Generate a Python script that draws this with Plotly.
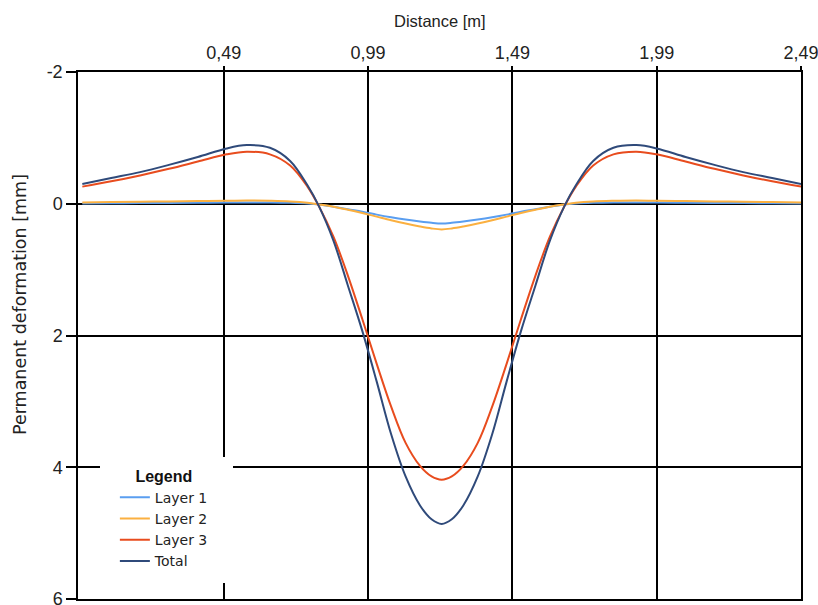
import plotly.graph_objects as go

# Distance along profile [m]
distance = [0.00, 0.10, 0.20, 0.30, 0.40, 0.50, 0.57, 0.65, 0.72, 0.78, 0.82, 0.87, 0.92, 0.97,
            1.02, 1.07, 1.12, 1.17, 1.21, 1.245, 1.28, 1.32, 1.37, 1.42, 1.47, 1.52, 1.57,
            1.62, 1.67, 1.71, 1.77, 1.84, 1.92, 1.99, 2.09, 2.19, 2.29, 2.39, 2.49]

layer1 = [-0.005, -0.007, -0.01, -0.012, -0.015, -0.02, -0.02, -0.02, -0.015, -0.005, 0.01, 0.045,
          0.085, 0.12, 0.165, 0.205, 0.24, 0.27, 0.29, 0.30, 0.29, 0.27, 0.24, 0.205, 0.165, 0.12,
          0.085, 0.045, 0.01, -0.005, -0.015, -0.02, -0.02, -0.02, -0.015, -0.012, -0.01, -0.007, -0.005]

layer2 = [-0.02, -0.025, -0.03, -0.035, -0.04, -0.045, -0.05, -0.045, -0.035, -0.015, 0.01, 0.045,
          0.09, 0.14, 0.195, 0.25, 0.30, 0.345, 0.375, 0.39, 0.375, 0.345, 0.30, 0.25, 0.195, 0.14,
          0.09, 0.045, 0.01, -0.015, -0.035, -0.045, -0.05, -0.045, -0.04, -0.035, -0.03, -0.025, -0.02]

layer3 = [-0.26, -0.34, -0.43, -0.53, -0.64, -0.75, -0.79, -0.75, -0.58, -0.26, 0.04, 0.50,
          1.09, 1.75, 2.43, 3.08, 3.63, 3.98, 4.14, 4.19, 4.14, 3.98, 3.63, 3.08, 2.43, 1.75,
          1.09, 0.50, 0.04, -0.26, -0.58, -0.75, -0.79, -0.75, -0.64, -0.53, -0.43, -0.34, -0.26]

total = [-0.30, -0.39, -0.48, -0.59, -0.71, -0.84, -0.89, -0.85, -0.65, -0.28, 0.04, 0.56,
         1.24, 1.93, 2.70, 3.50, 4.14, 4.58, 4.79, 4.86, 4.79, 4.58, 4.14, 3.50, 2.70, 1.93,
         1.24, 0.56, 0.04, -0.28, -0.65, -0.85, -0.89, -0.84, -0.71, -0.59, -0.48, -0.39, -0.30]

series_names = ["Layer 1", "Layer 2", "Layer 3", "Total"]
series_colors = ["#5a9ef0", "#fbb040", "#e84c1e", "#2f4a7a"]

x_tickvals = [0.49, 0.99, 1.49, 1.99, 2.49]
x_ticktext = ["0,49", "0,99", "1,49", "1,99", "2,49"]
y_tickvals = [-2, 0, 2, 4, 6]
y_ticktext = ["-2", "0", "2", "4", "6"]

fig = go.Figure()
for name, ys, col in zip(series_names, [layer1, layer2, layer3, total], series_colors):
    fig.add_trace(go.Scatter(x=distance, y=ys, mode="lines", name=name,
                             line=dict(color=col, width=2, shape="spline", smoothing=1.0)))

FONT = "Liberation Sans, Arial, sans-serif"
TXT = "#222222"

fig.update_layout(
    width=818, height=605,
    margin=dict(l=78, r=17, t=72, b=6, autoexpand=False),
    paper_bgcolor="white", plot_bgcolor="white",
    font=dict(family=FONT, color=TXT, size=16),
    showlegend=True,
    legend=dict(
        x=0.051, y=0.262, xanchor="left", yanchor="top",
        bgcolor="white", borderwidth=0,
        font=dict(size=14, color=TXT, family="DejaVu Sans, sans-serif"),
        title=dict(text="<b>Legend</b>", side="top center",
                   font=dict(size=16, color="#111111", family=FONT)),
        itemwidth=30,
    ),
    shapes=[dict(type="rect", xref="paper", yref="paper",
                 x0=(100 - 78) / 723, x1=(233 - 78) / 723,
                 y0=(599 - 583) / 527, y1=(599 - 457) / 527,
                 fillcolor="white", line=dict(width=0), layer="above")],
    annotations=[
        dict(text="Distance [m]", xref="paper", yref="paper", x=0.5, y=1 + (72 - 21) / 527,
             xanchor="center", yanchor="middle", showarrow=False, font=dict(size=16.5, color=TXT)),
        dict(text="Permanent deformation [mm]", xref="paper", yref="paper",
             x=(20 - 78) / 723, y=(599 - 305) / 527, textangle=-90,
             xanchor="center", yanchor="middle", showarrow=False,
             font=dict(size=17.5, color=TXT, family="DejaVu Sans, sans-serif")),
    ],
)

fig.update_xaxes(
    side="top", range=[-0.015, 2.49], tickmode="array", tickvals=x_tickvals, ticktext=x_ticktext,
    showgrid=True, gridcolor="black", gridwidth=1.5,
    showline=True, linecolor="black", linewidth=1.5, mirror=True,
    ticks="outside", ticklen=4, tickcolor="black", tickwidth=1.5,
    tickfont=dict(size=18, color=TXT), zeroline=False, ticklabeloverflow="allow",
)
fig.update_yaxes(
    range=[6, -2], tickmode="array", tickvals=y_tickvals, ticktext=y_ticktext,
    showgrid=True, gridcolor="black", gridwidth=1.5,
    showline=True, linecolor="black", linewidth=1.5, mirror=True,
    ticks="outside", ticklen=10, tickcolor="black", tickwidth=1.5,
    tickfont=dict(size=18, color=TXT), zeroline=True, zerolinecolor="black", zerolinewidth=1.5,
    ticklabeloverflow="allow",
)

fig.write_html("out.html")
